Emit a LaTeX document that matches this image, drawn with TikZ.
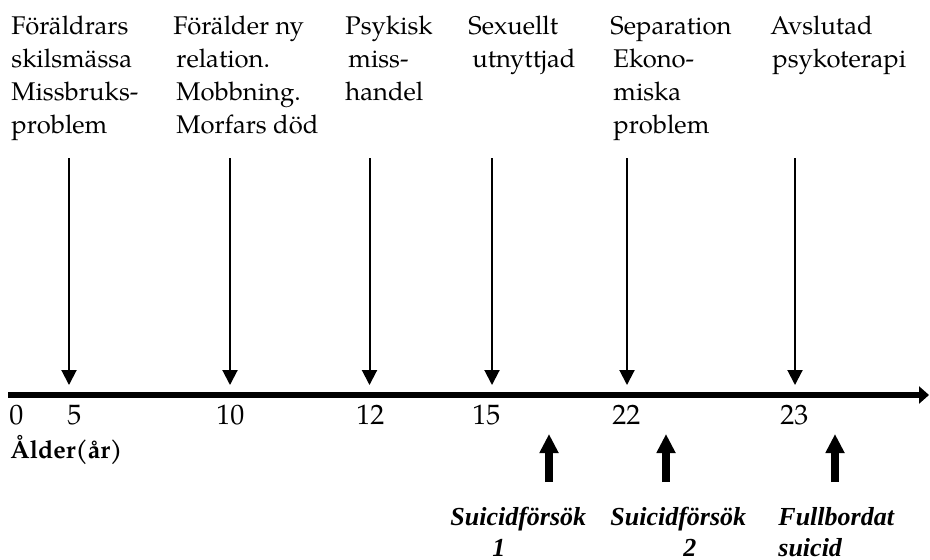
\documentclass[tikz,border=0pt]{standalone}
\usepackage{fontspec}
\setmainfont{texgyrepagella}[Extension=.otf, UprightFont=*-regular, BoldFont=*-bold, ItalicFont=*-italic, BoldItalicFont=*-bolditalic]
\newfontfamily\timesfam{Liberation Serif}
\usetikzlibrary{arrows.meta}

% multi-line nodes are anchored at the baseline of their last line
\tikzset{
  event/.style={anchor=base west, inner sep=0pt, align=left,
    font=\fontsize{12.8pt}{16.5pt}\selectfont},
  agenum/.style={anchor=base west, inner sep=0pt, font=\fontsize{14pt}{16pt}\selectfont},
  axislabel/.style={anchor=base west, inner sep=0pt, font=\bfseries\fontsize{12.5pt}{15pt}\selectfont},
  outcome/.style={anchor=base west, inner sep=0pt, align=left,
    font=\timesfam\bfseries\itshape\fontsize{13pt}{15.5pt}\selectfont},
  timeaxis/.style={line width=3pt, -{Triangle[width=8.5pt,length=5pt]}},
  eventarrow/.style={line width=1pt, -{Triangle[width=7.5pt,length=7.5pt]}},
  attemptarrow/.style={line width=4pt, -{Triangle[width=9pt,length=9.5pt]}},
}

\begin{document}
\begin{tikzpicture}[x=0.5pt, y=-0.5pt]
  \useasboundingbox (0,0) rectangle (930,559);

  % time axis
  \coordinate (axL) at (8,395);
  \coordinate (axR) at (929,395);
  \draw[timeaxis] (axL) -- (axR);

  % life events above the axis
  \node[event] (ev5)  at (11,133)  {Föräldrars\\skilsmässa\\Missbruks-\\problem};
  \node[event] (ev10) at (173,133) {Förälder ny\\\hspace*{1.5pt}relation.\\\hspace*{1.5pt}Mobbning.\\\hspace*{1.5pt}Morfars död};
  \node[event] (ev12) at (345,100) {Psykisk\\\hspace*{1.5pt}miss-\\handel};
  \node[event] (ev15) at (468,67)  {Sexuellt\\\hspace*{2pt}utnyttjad};
  \node[event] (ev22) at (610,133) {Separation\\\hspace*{1.5pt}Ekono-\\\hspace*{1.5pt}miska\\\hspace*{1.5pt}problem};
  \node[event] (ev23) at (770,67)  {Avslutad\\\hspace*{1pt}psykoterapi};

  % arrows from the events down to the axis
  \foreach \n/\x in {5/69, 10/230, 12/369.5, 15/492, 22/627, 23/795} {
    \coordinate (top\n) at (\x,158);
    \coordinate (hit\n) at (\x,385);
    \draw[eventarrow] (top\n) -- (hit\n);
  }

  % ages under the axis
  \node[agenum] (a0)  at (9,424)   {0};
  \node[agenum] (a5)  at (67,424)  {5};
  \node[agenum] (a10) at (216,424) {10};
  \node[agenum] (a12) at (356,424) {12};
  \node[agenum] (a15) at (472,424) {15};
  \node[agenum] (a22) at (612,424) {22};
  \node[agenum] (a23) at (780,424) {23};

  \node[axislabel] (age) at (10,458) {Ålder(år)};

  % suicide attempts below the axis
  \foreach \n/\x in {1/549, 2/666, 3/835} {
    \coordinate (foot\n) at (\x,482);
    \coordinate (tip\n) at (\x,434);
    \draw[attemptarrow] (foot\n) -- (tip\n);
  }

  \node[outcome] (out1) at (450,556) {Suicidförsök\\\hspace*{21pt}1};
  \node[outcome] (out2) at (610,556) {Suicidförsök\\\hspace*{36.5pt}2};
  \node[outcome] (out3) at (778,556) {Fullbordat\\suicid};
\end{tikzpicture}
\end{document}
